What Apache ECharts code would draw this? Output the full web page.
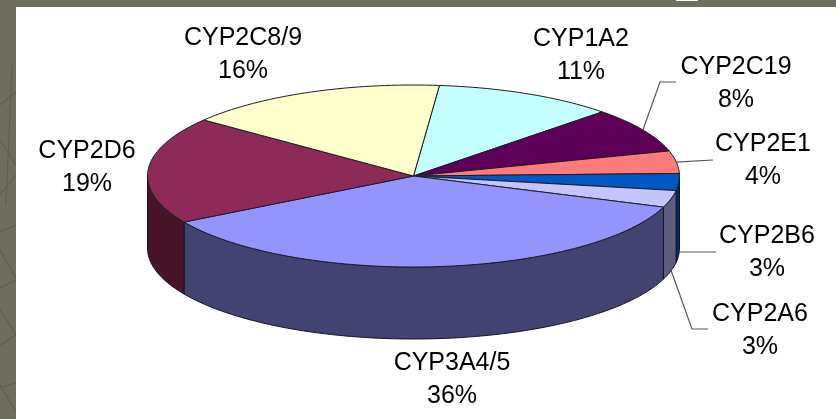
<!DOCTYPE html>
<html>
<head>
<meta charset="utf-8">
<style>html,body{margin:0;padding:0;background:#6e6e5e}#c{width:836px;height:419px}</style>
<script src="https://cdn.jsdelivr.net/npm/echarts@6/dist/echarts.min.js"></script>
</head>
<body>
<div id="c"></div>
<script>
// Data, clockwise from the slice just right of the top of the pie
const categories = ['CYP1A2','CYP2C19','CYP2E1','CYP2B6','CYP2A6','CYP3A4/5','CYP2D6','CYP2C8/9'];
const values = [11, 8, 4, 3, 3, 36, 19, 16];
const topColors = ['#C4FFFF','#5C0058','#FF7B7B','#0058C4','#C4C4FF','#9494FF','#8E2A58','#FFFFCC'];
const sideColors = ['#62807F','#2E002C','#803E3E','#002E63','#5E5E7C','#434372','#481428','#808066'];

// Layout (not data)
const PIE = {cx: 413.5, cy: 176, rx: 266, ry: 91, depth: 72, startDeg: -84.4};
const labelPos = [[581,55.5],[736,84],[763,161],[767,252.5],[760,330.5],[452,379.5],[87,167.5],[243,54.5]];
const leaderTail = [null,[[660,82],[676,82]],[[713,160]],[[679,252],[716,252]],[[692,329],[708,329]],null,null,null];
const leaderStartDrop = [0,0,0,70,71,0,0,0];

const total = values.reduce((a,b)=>a+b,0);
const spans = [];
values.reduce((acc,v)=>{const s=acc, e=acc+v/total*360; spans.push([s,e]); return e;}, PIE.startDeg);
const pt = (deg,dy=0)=>{const t=deg*Math.PI/180; return [PIE.cx+PIE.rx*Math.cos(t), PIE.cy+PIE.ry*Math.sin(t)+dy];};
function arc(a,b,dy=0){const n=Math.max(2,Math.ceil(Math.abs(b-a)/1.5)),p=[];for(let i=0;i<=n;i++)p.push(pt(a+(b-a)*i/n,dy));return p;}

const bgLines = [[[12,65],[6,205]],[[0,105],[16,92]],[[0,140],[16,165]],[[0,195],[16,175]],[[0,232],[16,225]],[[0,250],[16,278]],[[0,288],[16,280]],[[0,310],[16,335]],[[0,345],[16,335]],[[0,385],[16,412]],[[0,388],[16,383]]];

const chart = echarts.init(document.getElementById('c'),null,{renderer:'canvas'});
const ids = categories.map((n,i)=>i);
chart.setOption({
  animation:false,
  backgroundColor:'#6e6e5e',
  graphic:[
    {type:'rect',z:0,shape:{x:676,y:-1,width:22,height:2},style:{fill:'#fff'},silent:true},
    ...bgLines.map(l=>({type:'line',z:0,shape:{x1:l[0][0],y1:l[0][1],x2:l[1][0],y2:l[1][1]},style:{stroke:'#5f5f4f',lineWidth:1.2},silent:true})),
    {type:'rect',z:0,shape:{x:16,y:7,width:820,height:412},style:{fill:'#fff'},silent:true}
  ],
  series:[
    {type:'custom',coordinateSystem:'none',z:2,silent:true,data:ids,
     renderItem(p){
       const i=p.dataIndex; let [s,e]=spans[i];
       // only the part of the slice on the front half shows its wall
       const a=Math.max(s,0), b=Math.min(e,180);
       if(b<=a) return {type:'group',children:[]};
       const pts=arc(a,b).concat(arc(b,a,PIE.depth));
       return {type:'polygon',shape:{points:pts},style:{fill:sideColors[i],stroke:'#14142a',lineWidth:1}};
     }},
    {type:'custom',coordinateSystem:'none',z:3,silent:true,data:ids,
     renderItem(p){
       const i=p.dataIndex,[s,e]=spans[i];
       return {type:'polygon',shape:{points:[[PIE.cx,PIE.cy]].concat(arc(s,e))},style:{fill:topColors[i],stroke:'#1c1c24',lineWidth:1}};
     }},
    {type:'custom',coordinateSystem:'none',z:4,silent:true,data:ids,
     renderItem(p){
       const i=p.dataIndex,children=[];
       if(leaderTail[i]){
         const mid=(spans[i][0]+spans[i][1])/2;
         children.push({type:'polyline',shape:{points:[pt(mid,leaderStartDrop[i])].concat(leaderTail[i])},style:{fill:null,stroke:'#555',lineWidth:1.2}});
       }
       children.push({type:'text',style:{text:categories[i]+'\n'+values[i]+'%',x:labelPos[i][0],y:labelPos[i][1],align:'center',verticalAlign:'middle',fontFamily:'"Liberation Sans"',fontSize:25,lineHeight:33,fill:'#000'}});
       return {type:'group',children};
     }}
  ]
});
</script>
</body>
</html>
